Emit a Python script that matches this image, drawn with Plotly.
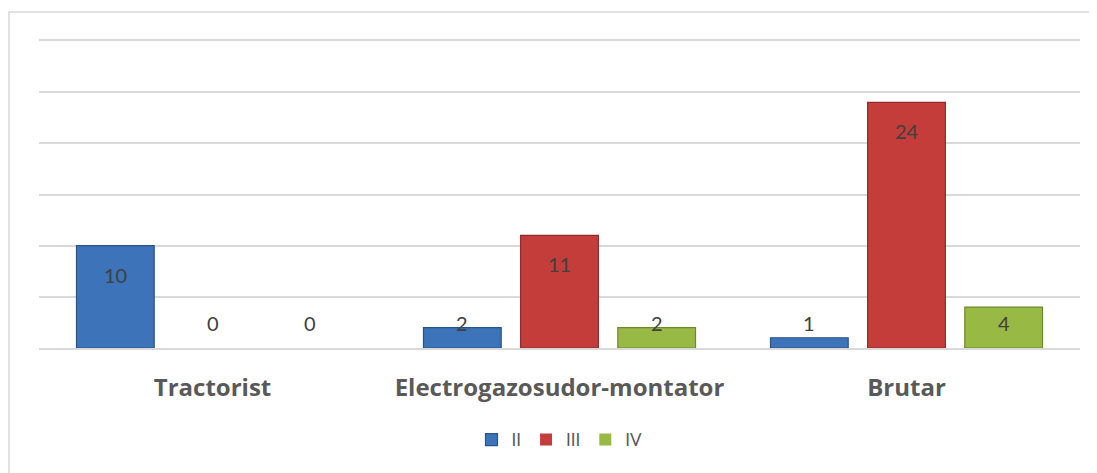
import plotly.graph_objects as go

categorii = ['Tractorist', 'Electrogazosudor-montator', 'Brutar']
serii = ['II', 'III', 'IV']
val_II = [10, 2, 1]
val_III = [0, 11, 24]
val_IV = [0, 2, 4]

culori = ['#3C73B9', '#C53D3A', '#98B944']
contur = ['#2A5487', '#8E2A28', '#6C8A2A']

# pagina are margine de 8px, figura incepe la (8, 8)
W, H = 1089, 465
ml, mr, mt, mb = 31, 17, 33, 125
pw, ph = W - ml - mr, H - mt - mb

fig = go.Figure()
for nume, vals, c, lc in zip(serii, [val_II, val_III, val_IV], culori, contur):
    fig.add_trace(go.Bar(name=nume, x=categorii, y=vals,
                         marker=dict(color=c,
                                     line=dict(color=lc, width=[1.2 if v else 0 for v in vals]))))

# etichete de date (ca in Excel, "inside end")
slot = (1 - 0.16) / 3
for j, vals in enumerate([val_II, val_III, val_IV]):
    for i, v in enumerate(vals):
        y_lbl = max(v - 29 * 30 / ph, 25 * 30 / ph)
        fig.add_annotation(x=i + (j - 1) * slot, y=y_lbl, text=str(v),
                           showarrow=False, xref='x', yref='y',
                           font=dict(size=20, color='#404040'))

# chenarul graficului
fig.add_shape(type='rect', xref='paper', yref='paper',
              x0=(1 - ml) / pw, x1=(W + 5 - ml) / pw,
              y0=(mt + ph - (H + 5)) / ph, y1=(mt + ph - 4) / ph,
              line=dict(color='#D9D9D9', width=1.5), fillcolor='rgba(0,0,0,0)')

fig.update_layout(
    width=W, height=H,
    margin=dict(l=ml, r=mr, t=mt, b=mb),
    paper_bgcolor='white', plot_bgcolor='white',
    barmode='group', bargap=0.16, bargroupgap=0.2,
    font=dict(family='Lato, Open Sans, sans-serif', color='#595959'),
    showlegend=True,
    legend=dict(orientation='h', x=0.5, xanchor='center', y=(340 - 432) / ph, yanchor='middle',
                font=dict(size=17, color='#595959'), itemwidth=30, traceorder='normal'),
)
fig.update_yaxes(range=[0, 30], dtick=5, showticklabels=False, showgrid=True,
                 gridcolor='#D9D9D9', gridwidth=1.5, zeroline=False, showline=False)
fig.update_xaxes(showline=True, mirror=True, linecolor='#D9D9D9', linewidth=1.5,
                 tickfont=dict(size=24, color='#595959', family='Open Sans, sans-serif', weight='bold'),
                 ticks='outside', ticklen=0, ticklabelstandoff=17)

fig.write_html('out.html')
